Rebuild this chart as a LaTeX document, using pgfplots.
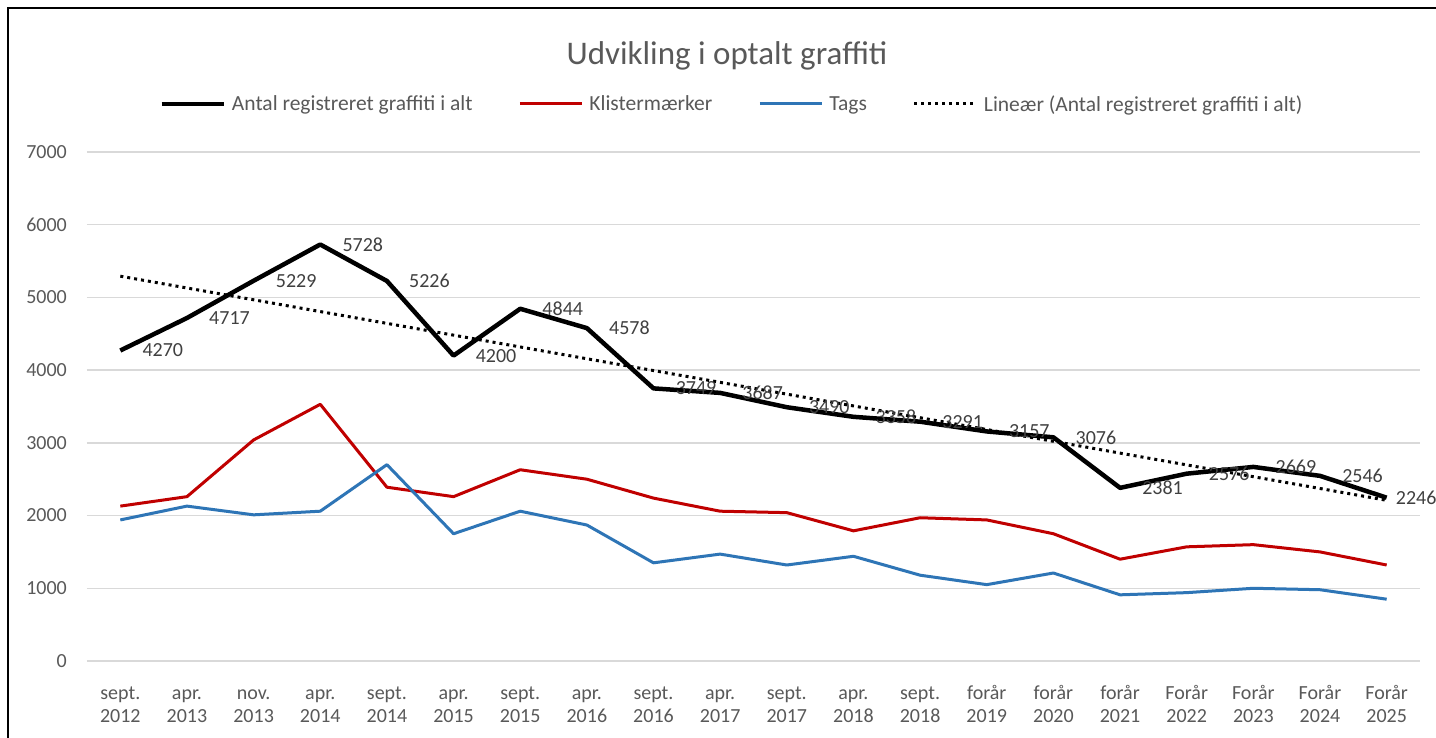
\documentclass[border=0pt]{standalone}
\usepackage{fontspec}
\setmainfont{Carlito}
\usepackage{pgfplots}
\pgfplotsset{compat=1.18}
\definecolor{txt}{HTML}{595959}
\definecolor{lbl}{HTML}{404040}
\definecolor{gridc}{HTML}{D9D9D9}
\definecolor{redl}{HTML}{C00000}
\definecolor{bluel}{HTML}{2E75B6}
\pgfkeys{/pgf/number format/.cd, assume math mode=true, 1000 sep={}}
\begin{document}
\begin{tikzpicture}[x=1pt,y=1pt]
\useasboundingbox (0,0) rectangle (1436,738);
\fill[white] (0,0) rectangle (1436,738);
\draw[line width=2pt] (8,-10) -- (8,730) -- (1450,730);
\node[anchor=base, font=\fontsize{33}{36}\selectfont, text=txt, inner sep=0pt] at (727,673) {Udvikling i optalt graffiti};
\begin{axis}[
  at={(87pt,77pt)}, anchor=south west, scale only axis,
  width=1333pt, height=509pt,
  xmin=-0.5, xmax=19.5, ymin=0, ymax=7000,
  clip=false,
  axis line style={draw=none},
  major tick length=0pt,
  ytick={0,1000,...,7000},
  ymajorgrids, grid style={gridc, line width=1.5pt},
  xtick={0,...,19},
  xticklabels={{\strut sept.\\\strut 2012},{\strut apr.\\\strut 2013},{\strut nov.\\\strut 2013},{\strut apr.\\\strut 2014},{\strut sept.\\\strut 2014},{\strut apr.\\\strut 2015},{\strut sept.\\\strut 2015},{\strut apr.\\\strut 2016},{\strut sept.\\\strut 2016},{\strut apr.\\\strut 2017},{\strut sept.\\\strut 2017},{\strut apr.\\\strut 2018},{\strut sept.\\\strut 2018},{\strut forår\\\strut 2019},{\strut forår\\\strut 2020},{\strut forår\\\strut 2021},{\strut Forår\\\strut 2022},{\strut Forår\\\strut 2023},{\strut Forår\\\strut 2024},{\strut Forår\\\strut 2025}},
  xticklabel style={align=center, anchor=north, inner sep=0pt, yshift=-22pt, font=\fontsize{20}{23}\selectfont, text=txt},
  yticklabel style={anchor=east, inner sep=0pt, xshift=-20pt, font=\fontsize{20}{23}\selectfont, text=txt},
  legend columns=4,
  legend style={at={(0.4831,1.0943)}, anchor=center, draw=none, fill=none,
    font=\fontsize{21.5}{24}\selectfont, text=txt,
    /tikz/every even column/.append style={column sep=46pt},
    /tikz/every odd column/.append style={column sep=6pt},
    nodes={inner sep=0pt}},
  legend cell align=left,
  legend image code/.code={\draw[#1] (0pt,0pt) -- (62pt,0pt);},
]
\addplot[black, line width=4.5pt, line join=round,
  nodes near coords, point meta=y,
  visualization depends on={x \as \rawx},
  every node near coord/.append style={anchor=west, inner sep=0pt, xshift={20-13*(\rawx>18.5)}, font=\fontsize{20}{23}\selectfont, text=lbl}]
  coordinates {(0,4270) (1,4717) (2,5229) (3,5728) (4,5226) (5,4200) (6,4844) (7,4578) (8,3749) (9,3687) (10,3490) (11,3358) (12,3291) (13,3157) (14,3076) (15,2381) (16,2576) (17,2669) (18,2546) (19,2246)};
\addlegendentry{Antal registreret graffiti i alt}
\addplot[redl, line width=3pt, line join=round]
  coordinates {(0,2130) (1,2260) (2,3040) (3,3530) (4,2390) (5,2260) (6,2630) (7,2500) (8,2240) (9,2060) (10,2040) (11,1790) (12,1970) (13,1940) (14,1750) (15,1400) (16,1570) (17,1600) (18,1500) (19,1320)};
\addlegendentry{Klistermærker}
\addplot[bluel, line width=3pt, line join=round]
  coordinates {(0,1940) (1,2130) (2,2010) (3,2060) (4,2700) (5,1750) (6,2060) (7,1870) (8,1350) (9,1470) (10,1320) (11,1440) (12,1180) (13,1050) (14,1210) (15,910) (16,940) (17,1000) (18,980) (19,850)};
\addlegendentry{Tags}
\addplot[black, line width=3pt, dash pattern=on 3pt off 4pt]
  coordinates {(0,5292) (19,2210)};
\addlegendentry{Lineær (Antal registreret graffiti i alt)}
\end{axis}
\end{tikzpicture}
\end{document}
